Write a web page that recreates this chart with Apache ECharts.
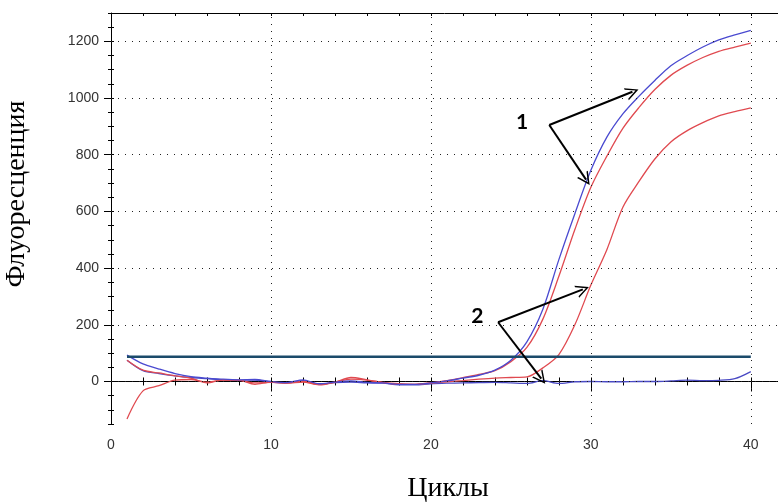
<!DOCTYPE html>
<html>
<head>
<meta charset="utf-8">
<script src="https://cdn.jsdelivr.net/npm/echarts@6/dist/echarts.min.js"></script>
<style>
  html, body { margin: 0; padding: 0; background: #fff; }
  #chart { width: 778px; height: 502px; }
</style>
</head>
<body>
<div id="chart"></div>
<script>
// циклы ПЦР
const cycles = [1,2,3,4,5,6,7,8,9,10,11,12,13,14,15,16,17,18,19,20,
                21,22,23,24,25,26,27,28,29,30,31,32,33,34,35,36,37,38,39,40];

// кривые флуоресценции (по картинке)
const blue1 = [93,62,44,28,17,12,8,6,7,0,-4,6,-8,-2,2,-3,-5,-10,-10,-5,
               2,12,22,40,75,140,255,430,592,745,862,944,1006,1062,1114,1149,1180,1205,1223,1239];
const red1  = [75,40,30,20,12,-5,6,5,-10,-2,-6,-2,-12,-3,14,6,-3,-8,-10,-4,
               3,14,25,38,70,120,220,371,536,685,795,893,966,1030,1080,1115,1143,1165,1180,1194];
const red2  = [-132,-33,-15,5,7,-2,5,4,-5,-3,-5,0,-10,-2,8,5,-4,-10,-10,-6,
               -1,3,8,12,14,16,48,95,200,340,465,615,705,785,845,884,913,937,952,965];
const blue2 = [75,38,28,20,14,10,6,4,5,-2,-5,3,-10,-4,-2,-5,-6,-12,-12,-8,
               -6,-5,-4,-3,-5,-7,3,-7,-1,0,-1,-1,0,0,2,5,3,4,10,35];

const threshold = 87;

const xTicks = [0, 10, 20, 30, 40];
const yTicks = [0, 200, 400, 600, 800, 1000, 1200];

// стрелки-подписи: [от, до]
const arrows = [
  [[27.4, 905], [32.6, 1022]],
  [[27.4, 905], [29.7, 712]],
  [[24.2, 209], [29.5, 325]],
  [[24.2, 209], [26.9, 10]]
];
const marks = [
  { name: '1', coord: [25.7, 915] },
  { name: '2', coord: [22.9, 230] }
];

const X_MAX = 41.7, Y_MIN = -150, Y_MAX = 1300;
const chart = echarts.init(document.getElementById('chart'));

const tickFont = { fontFamily: 'Liberation Sans', fontSize: 14, color: '#333' };
const blackLine = { show: true, lineStyle: { color: '#000', width: 1 } };
const noLine = { show: false };
const chevron = 'path://M10,0 L20,20 L17.5,20 L10,5 L2.5,20 L0,20 Z';

function xAx(extra) {
  return Object.assign({
    type: 'value', min: 0, max: X_MAX, interval: 2, position: 'bottom',
    axisLine: noLine, axisLabel: { show: false }, splitLine: { show: false }
  }, extra);
}
function yAx(extra) {
  return Object.assign({
    type: 'value', min: Y_MIN, max: Y_MAX, interval: 50, position: 'left',
    axisLine: noLine, axisLabel: { show: false }, splitLine: { show: false }
  }, extra);
}

const pairs = arr => cycles.map((c, i) => [c, arr[i]]);

let opt = {
  animation: false,
  grid: { left: 111, top: 13, right: 0, bottom: 78 },
  xAxis: [
    xAx({
      axisLine: blackLine,
      axisTick: { inside: false, length: 4, lineStyle: { color: '#000' } },
      axisLabel: Object.assign({ show: true, customValues: xTicks, margin: 14,
                                 formatter: v => String(v) }, tickFont)
    }),
    xAx({ axisTick: { inside: true, length: 4, lineStyle: { color: '#000' } } }),
    xAx({ axisTick: { inside: false, length: 10, customValues: xTicks, lineStyle: { color: '#000' } } }),
    xAx({ position: 'top', axisLine: blackLine,
          axisTick: { inside: true, length: 3, lineStyle: { color: '#000' } } })
  ],
  yAxis: [
    yAx({
      axisLine: blackLine,
      axisTick: { inside: false, length: 3, lineStyle: { color: '#000' } },
      axisLabel: Object.assign({ show: true, customValues: yTicks, margin: 12,
                                 formatter: v => String(v) }, tickFont)
    }),
    yAx({ axisTick: { inside: true, length: 3, lineStyle: { color: '#000' } } }),
    yAx({ axisTick: { inside: false, length: 7, customValues: yTicks, lineStyle: { color: '#000' } } })
  ],
  graphic: [
    { type: 'text', x: 17, y: 194, rotation: Math.PI / 2,
      style: { text: 'Флуоресценция', font: '28px "Liberation Serif"', fill: '#000',
               align: 'center', verticalAlign: 'middle' } },
    { type: 'text', x: 448, y: 489,
      style: { text: 'Циклы', font: '28px "Liberation Serif"', fill: '#000',
               align: 'center', verticalAlign: 'middle' } }
  ],
  series: [
    {
      // сетка
      type: 'line', data: [], silent: true,
      markLine: {
        silent: true, symbol: 'none', label: { show: false },
        lineStyle: { color: '#222', width: 1, type: [1, 6] },
        data: yTicks.map(v => ({ yAxis: v }))
              .concat(xTicks.filter(v => v !== 0).map(v => ({ xAxis: v })))
      }
    },
    { name: 'blue2', type: 'line', data: pairs(blue2), showSymbol: false, smooth: 0.3,
      lineStyle: { color: '#4a4ac4', width: 1.3 } },
    { name: 'red2', type: 'line', data: pairs(red2), showSymbol: false, smooth: 0.3,
      lineStyle: { color: '#e04a50', width: 1.3 } },
    { name: 'red1', type: 'line', data: pairs(red1), showSymbol: false, smooth: 0.3,
      lineStyle: { color: '#e04a50', width: 1.3 } },
    { name: 'blue1', type: 'line', data: pairs(blue1), showSymbol: false, smooth: 0.3,
      lineStyle: { color: '#4a4ad0', width: 1.3 } },
    { name: 'threshold', type: 'line', data: [[1, threshold], [40, threshold]], showSymbol: false,
      lineStyle: { color: '#1b4a6a', width: 2.5 } },
    {
      // стрелки и номера
      type: 'line', data: [], silent: true,
      markLine: {
        silent: true, symbol: ['none', chevron], symbolSize: [13, 13],
        label: { show: false },
        lineStyle: { color: '#000', width: 2, type: 'solid' },
        data: arrows.map(a => [{ coord: a[0] }, { coord: a[1] }])
      },
      markPoint: {
        silent: true, symbol: 'circle', symbolSize: 1,
        itemStyle: { color: 'rgba(0,0,0,0)' },
        label: { show: true, position: 'inside', formatter: '{b}',
                 fontFamily: 'Lato', fontWeight: 'bold', fontSize: 21, color: '#000' },
        data: marks
      }
    }
  ]
};
chart.setOption(opt);
</script>
</body>
</html>
